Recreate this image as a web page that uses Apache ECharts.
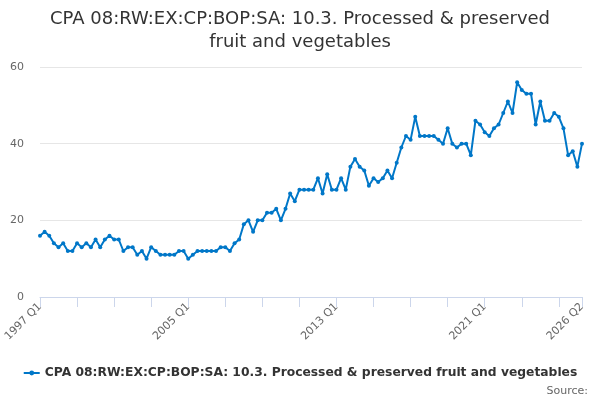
<!DOCTYPE html>
<html lang="en">

<head>
    <meta charset="utf-8">
    <title>CPA 08 10.3</title>
    <script src="https://cdn.jsdelivr.net/npm/echarts@6/dist/echarts.min.js"></script>
    <style>
        html,
        body {
            margin: 0;
            height: 100%;
            background: #fff;
        }

        #chart {
            width: 600px;
            height: 400px;
        }
    </style>
</head>

<body>
    <div id="chart"></div>
    <script>
        // quarterly values, 1997 Q1 .. 2026 Q2
        var values = [
            16, 17, 16, 14, 13, 14, 12, 12, 14, 13, 14, 13, 15, 13, 15, 16,
            15, 15, 12, 13, 13, 11, 12, 10, 13, 12, 11, 11, 11, 11, 12, 12,
            10, 11, 12, 12, 12, 12, 12, 13, 13, 12, 14, 15, 19, 20, 17, 20,
            20, 22, 22, 23, 20, 23, 27, 25, 28, 28, 28, 28, 31, 27, 32, 28,
            28, 31, 28, 34, 36, 34, 33, 29, 31, 30, 31, 33, 31, 35, 39, 42,
            41, 47, 42, 42, 42, 42, 41, 40, 44, 40, 39, 40, 40, 37, 46, 45,
            43, 42, 44, 45, 48, 51, 48, 56, 54, 53, 53, 45, 51, 46, 46, 48,
            47, 44, 37, 38, 34, 40
        ];
        var seriesName = 'CPA 08:RW:EX:CP:BOP:SA: 10.3. Processed & preserved fruit and vegetables';
        var yTicks = [0, 20, 40, 60];

        var quarters = [];
        for (var y = 1997; quarters.length < values.length; y++) {
            for (var q = 1; q <= 4 && quarters.length < values.length; q++) {
                quarters.push(y + ' Q' + q);
            }
        }
        var last = quarters.length - 1;

        var chart = echarts.init(document.getElementById('chart'), null, {
            renderer: 'canvas'
        });

        chart.setOption({
            animation: false,
            textStyle: { fontFamily: 'DejaVu Sans' },
            title: {
                text: 'CPA 08:RW:EX:CP:BOP:SA: 10.3. Processed & preserved\nfruit and vegetables',
                left: 'center',
                top: 3,
                textStyle: {
                    fontSize: 18,
                    fontWeight: 'normal',
                    color: '#333',
                    lineHeight: 23,
                    align: 'center'
                }
            },
            legend: {
                bottom: 16,
                left: 'center',
                itemWidth: 16,
                itemHeight: 6,
                itemGap: 5,
                textStyle: { fontSize: 12.3, fontWeight: 'bold', color: '#333' }
            },
            graphic: [{
                type: 'text',
                right: 12,
                bottom: 3,
                style: { text: 'Source:', fontSize: 11, fill: '#666', fontFamily: 'DejaVu Sans' }
            }],
            grid: { left: 40, right: 18, top: 67, bottom: 103 },
            xAxis: {
                type: 'category',
                data: quarters,
                boundaryGap: false,
                axisLine: { lineStyle: { color: '#ccd6eb' } },
                axisTick: {
                    length: 10,
                    lineStyle: { color: '#ccd6eb' },
                    interval: function (i) { return i % 8 === 0 || i === last; }
                },
                axisLabel: {
                    rotate: 45,
                    fontSize: 11,
                    color: '#666',
                    margin: 8,
                    interval: function (i) { return i % 32 === 0 || i === last; }
                }
            },
            yAxis: {
                type: 'value',
                min: yTicks[0],
                max: yTicks[yTicks.length - 1],
                interval: 20,
                axisLabel: { fontSize: 11, color: '#666', margin: 16 },
                splitLine: { lineStyle: { color: '#e6e6e6' } }
            },
            series: [{
                name: seriesName,
                type: 'line',
                data: values,
                color: '#0077c8',
                symbol: 'circle',
                symbolSize: 4,
                showAllSymbol: true,
                lineStyle: { width: 2 }
            }]
        });
    </script>
</body>

</html>
